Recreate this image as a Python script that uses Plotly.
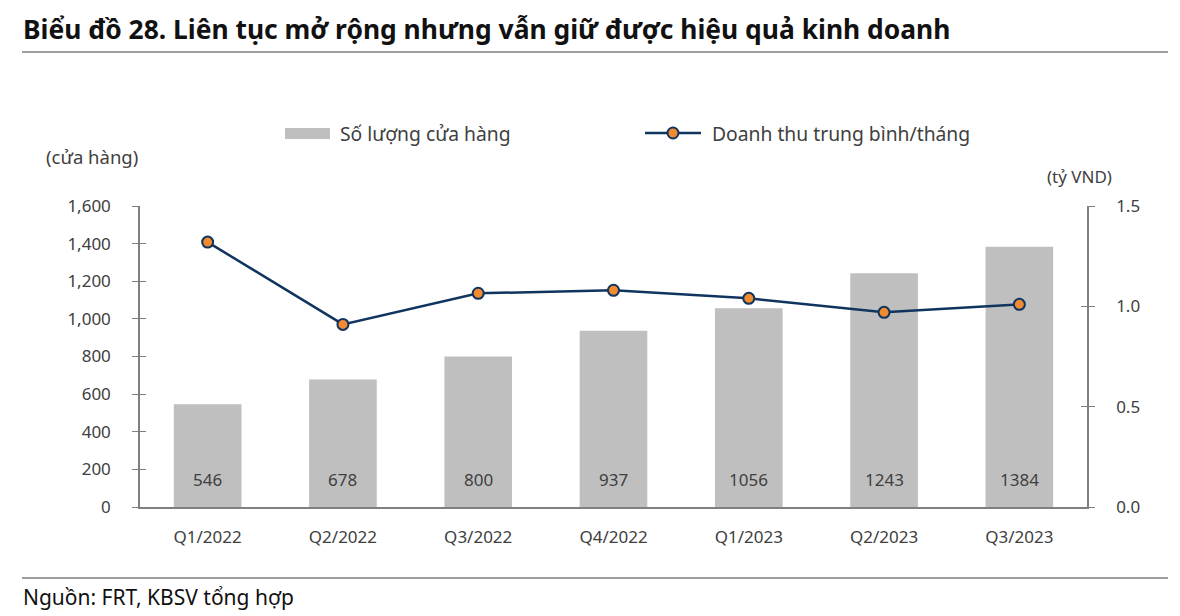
import plotly.graph_objects as go

quarters = ["Q1/2022", "Q2/2022", "Q3/2022", "Q4/2022", "Q1/2023", "Q2/2023", "Q3/2023"]
stores = [546, 678, 800, 937, 1056, 1243, 1384]
revenue = [1.32, 0.91, 1.065, 1.08, 1.04, 0.97, 1.01]

FONT = "Noto Sans"
TXT = "#404040"
AX = "#7f7f7f"
W, H = 1180, 616
L, R, T, B = 140, 93, 206, 109
plot_h = H - T - B
plot_w = W - L - R


def py(ypix):
    return (H - B - ypix) / plot_h


def px(xpix):
    return (xpix - L) / plot_w


fig = go.Figure()
fig.add_trace(go.Bar(
    x=quarters, y=stores, name="Số lượng cửa hàng",
    marker=dict(color="#bfbfbf", line=dict(width=0)),
    width=0.5, showlegend=False,
))
fig.add_trace(go.Scatter(
    x=quarters, y=revenue, name="Doanh thu trung bình/tháng", yaxis="y2",
    mode="lines+markers", showlegend=False,
    line=dict(color="#0f3460", width=2.5),
    marker=dict(color="#f28a30", size=11, line=dict(color="#0f3460", width=2)),
))

common_y = dict(showgrid=False, zeroline=False, showline=True, linecolor=AX, linewidth=1.5,
                ticklen=6, tickcolor=AX, tickwidth=1.2)

fig.update_layout(
    width=W, height=H,
    margin=dict(l=L, r=R, t=T, b=B),
    paper_bgcolor="white", plot_bgcolor="white",
    font=dict(family=FONT, size=17, color=TXT),
    showlegend=False,
    bargap=0.5,
    xaxis=dict(showline=True, linecolor=AX, linewidth=1.5, ticks="",
               tickfont=dict(size=17, color=TXT), showgrid=False, ticklabelstandoff=14),
    yaxis=dict(range=[0, 1600], dtick=200, tickformat=",", ticks="outside",
               tickfont=dict(size=17, color=TXT), ticklabelstandoff=18, **common_y),
    yaxis2=dict(range=[0, 1.5], dtick=0.5, tickformat=".1f", overlaying="y", side="right",
                ticks="outside", tickfont=dict(size=17, color=TXT), ticklabelstandoff=18,
                **common_y),
    yaxis3=dict(range=[0, 1600], dtick=200, overlaying="y", side="left", ticks="inside",
                showticklabels=False, **common_y),
    yaxis4=dict(range=[0, 1.5], dtick=0.5, overlaying="y", side="right", ticks="inside",
                showticklabels=False, **common_y),
)
# invisible traces to activate the inner-tick axes
fig.add_trace(go.Scatter(x=[quarters[0]], y=[0], yaxis="y3", mode="markers",
                         marker=dict(opacity=0), hoverinfo="skip", showlegend=False))
fig.add_trace(go.Scatter(x=[quarters[0]], y=[0], yaxis="y4", mode="markers",
                         marker=dict(opacity=0), hoverinfo="skip", showlegend=False))

# data labels near bar bottoms
for q, v in zip(quarters, stores):
    fig.add_annotation(x=q, y=0, yshift=28, text=str(v), showarrow=False,
                       xref="x", yref="y", font=dict(family=FONT, size=17, color=TXT))

# title, units, source
fig.add_annotation(text="<b>Biểu đồ 28. Liên tục mở rộng nhưng vẫn giữ được hiệu quả kinh doanh</b>",
                   xref="paper", yref="paper", x=px(21), y=py(29), xanchor="left", yanchor="middle",
                   showarrow=False, font=dict(family=FONT, size=26.4, color="#111111"))
fig.add_annotation(text="(cửa hàng)", xref="paper", yref="paper", x=px(44), y=py(156),
                   xanchor="left", yanchor="middle", showarrow=False,
                   font=dict(family=FONT, size=18.5, color=TXT))
fig.add_annotation(text="(tỷ VND)", xref="paper", yref="paper", x=px(1114), y=py(177),
                   xanchor="right", yanchor="middle", showarrow=False,
                   font=dict(family=FONT, size=17, color=TXT))
fig.add_annotation(text="Nguồn: FRT, KBSV tổng hợp", xref="paper", yref="paper", x=px(21), y=py(597),
                   xanchor="left", yanchor="middle", showarrow=False,
                   font=dict(family=FONT, size=21, color="#111111"))
fig.add_shape(type="line", xref="paper", yref="paper", x0=px(22), x1=px(1168), y0=py(52), y1=py(52),
              line=dict(color=AX, width=1.5))
fig.add_shape(type="line", xref="paper", yref="paper", x0=px(22), x1=px(1168), y0=py(578), y1=py(578),
              line=dict(color=AX, width=1.5))

# custom legend
fig.add_shape(type="rect", xref="paper", yref="paper", x0=px(285), x1=px(330), y0=py(139), y1=py(128),
              line=dict(width=0), fillcolor="#bfbfbf")
fig.add_annotation(text="Số lượng cửa hàng", xref="paper", yref="paper", x=px(338), y=py(133),
                   xanchor="left", yanchor="middle", showarrow=False,
                   font=dict(family=FONT, size=19.3, color=TXT))
fig.add_shape(type="line", xref="paper", yref="paper", x0=px(645), x1=px(701), y0=py(133), y1=py(133),
              line=dict(color="#0f3460", width=2.5))
fig.add_shape(type="circle", xref="paper", yref="paper", xsizemode="pixel", ysizemode="pixel",
              xanchor=px(673), yanchor=py(133), x0=-5.5, x1=5.5, y0=-5.5, y1=5.5,
              fillcolor="#f28a30", line=dict(color="#0f3460", width=2))
fig.add_annotation(text="Doanh thu trung bình/tháng", xref="paper", yref="paper", x=px(710), y=py(133),
                   xanchor="left", yanchor="middle", showarrow=False,
                   font=dict(family=FONT, size=19.3, color=TXT))

fig.write_html("out.html")
